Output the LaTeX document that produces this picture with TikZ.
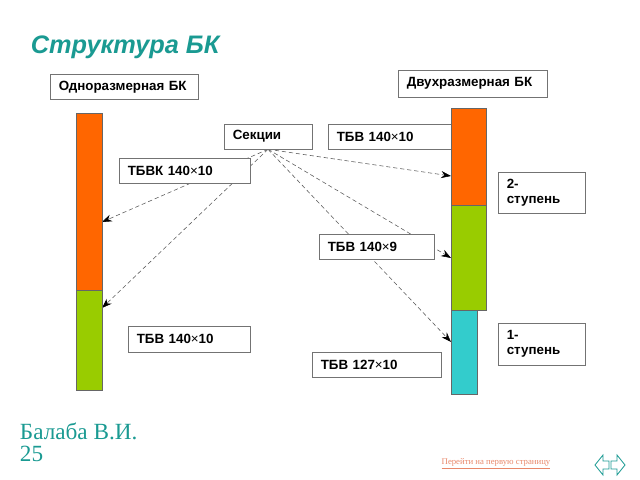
\documentclass[tikz,border=0pt]{standalone}
\usepackage{fontspec}
\setmainfont{Liberation Serif}
\newfontfamily\arial{Liberation Sans}
\usepackage{xcolor}
\usetikzlibrary{arrows.meta, positioning, backgrounds}

\definecolor{teal1}{HTML}{1A9A92}
\definecolor{orng}{HTML}{FF6600}
\definecolor{grn}{HTML}{99CC00}
\definecolor{cyn}{HTML}{33CCCC}
\definecolor{linkc}{HTML}{E8876A}

\tikzset{
  box/.style={draw=black!55, fill=white, inner xsep=0.22cm, inner ysep=0pt,
    minimum height=0.625cm, text width=#1, align=left, font=\arial\bfseries\fontsize{9.5}{11}\selectfont},
  bar/.style={draw=black!60, line width=0.4pt},
  sect/.style={draw=black!65, densely dashed, line width=0.4pt, -{Stealth[length=7pt,width=5pt,color=black]}}
}

\begin{document}
\begin{tikzpicture}[x=0.025cm, y=-0.025cm]
    \useasboundingbox (0,0) rectangle (640,480);
    \node[anchor=base west, text=teal1, font=\arial\bfseries\itshape\fontsize{18}{20}\selectfont] (title) at (26,53) {Структура БК};

    \node[box=3.26cm] (one) at (124,87) {Одноразмерная БК};
    \node[box=3.285cm, minimum height=0.675cm] (two) at (472.5,83.5) {Двухразмерная БК};

    % bars
    \draw[bar, fill=orng] (76,113) rectangle (102,290);
    \draw[bar, fill=grn] (76,290) rectangle (102,390);

    \node[box=1.76cm] (sec) at (268,136.5) {Секции};
    \node[box=2.735cm] (tbvtop) at (391.5,136.5) {ТБВ 140{\mdseries ×}10};

    \draw[bar, fill=orng] (451,108) rectangle (486,205);
    \draw[bar, fill=grn] (451,205) rectangle (486,310);
    \draw[bar, fill=cyn] (451,310) rectangle (477,394);

    \node[box=2.835cm] (tbvk) at (184.5,170.5) {ТБВК 140{\mdseries ×}10};
    \node[box=2.435cm] (tbv9) at (376.5,246.5) {ТБВ 140{\mdseries ×}9};
    \node[box=2.61cm, minimum height=0.65cm] (tbvlow) at (189,339) {ТБВ 140{\mdseries ×}10};
    \node[box=2.785cm] (tbv127) at (376.5,364.5) {ТБВ 127{\mdseries ×}10};
    \node[box=1.735cm, minimum height=1.025cm] (st2) at (541.5,192.5) {2-\\ступень};
    \node[box=1.735cm, minimum height=1.05cm] (st1) at (541.5,344) {1-\\ступень};

    \coordinate (lo) at (102,222);
    \coordinate (lg) at (102,308);
    \coordinate (ro) at (451,176);
    \coordinate (rg) at (451,258);
    \coordinate (rc) at (451,342);
    \begin{scope}[on background layer]
        \foreach \t in {lo,lg,ro,rg,rc}
            \draw[sect] (sec.south) -- (\t);
    \end{scope}

    \node[anchor=base west, text=teal1, font=\fontsize{16.5}{18}\selectfont] (auth) at (15,439) {Балаба В.И.};
    \node[anchor=base west, text=teal1, font=\fontsize{16.5}{18}\selectfont] (page) at (15,461) {25};
    \node[text=linkc, font=\fontsize{6.2}{7}\selectfont] (link) at (496,464) {\underline{Перейти на первую страницу}};
    \draw[teal1, line width=0.6pt] (595,465) -- (603,455) -- (603,461) -- (609,461) -- (609,469) -- (603,469) -- (603,475) -- cycle;
    \draw[teal1, line width=0.6pt] (625,465) -- (617,455) -- (617,461) -- (611,461) -- (611,469) -- (617,469) -- (617,475) -- cycle;
\end{tikzpicture}
\end{document}
